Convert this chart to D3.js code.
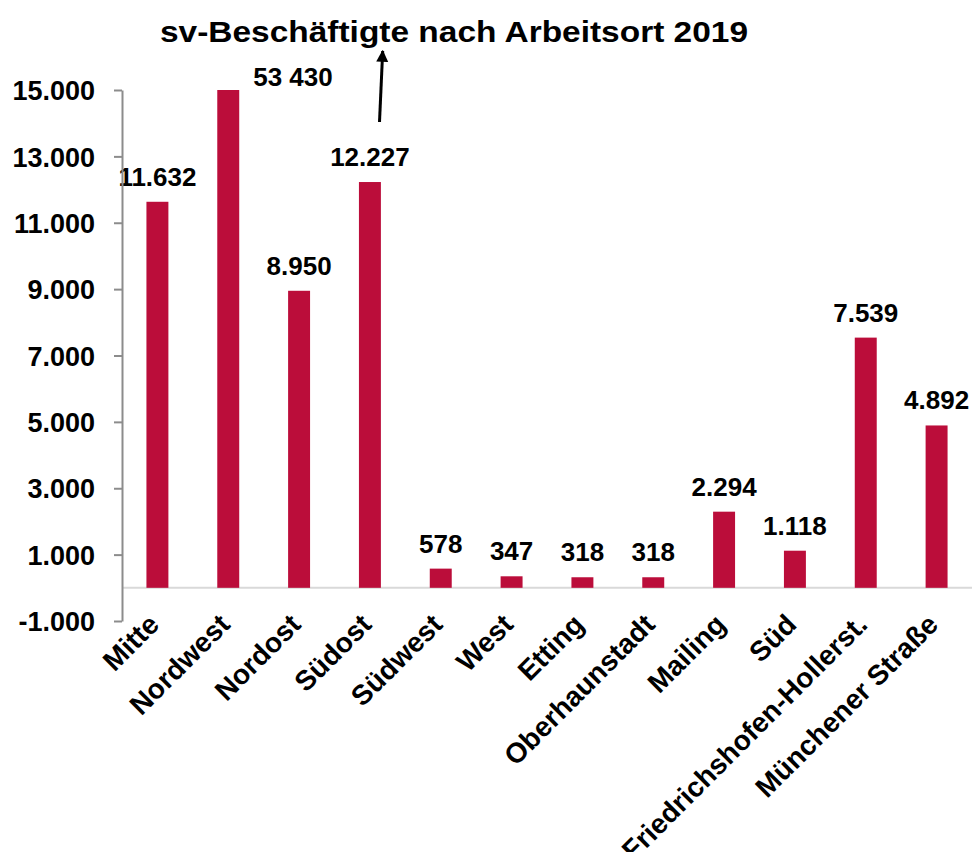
<!DOCTYPE html>
<html>
<head>
<meta charset="utf-8">
<script src="https://cdn.jsdelivr.net/npm/d3@7"></script>
<style>
  body { margin: 0; background: #fff; }
  text { font-family: "Liberation Sans", Arial, sans-serif; font-weight: bold; fill: #000; }
</style>
</head>
<body>
<svg id="chart"></svg>
<script>
const categories = ["Mitte", "Nordwest", "Nordost", "Südost", "Südwest", "West", "Etting",
    "Oberhaunstadt", "Mailing", "Süd", "Friedrichshofen-Hollerst.", "Münchener Straße"];
const values = [11632, 53430, 8950, 12227, 578, 347, 318, 318, 2294, 1118, 7539, 4892];
const yTicks = [-1000, 1000, 3000, 5000, 7000, 9000, 11000, 13000, 15000];
const title = "sv-Beschäftigte nach Arbeitsort 2019";
const clippedLabel = "53 430";

const width = 979, height = 852;
const margin = { top: 90, right: 7, bottom: 231, left: 122 };
const innerW = width - margin.left - margin.right;
const innerH = height - margin.top - margin.bottom;

const de = d3.formatLocale({ decimal: ",", thousands: ".", grouping: [3], currency: ["", " €"], minus: "-" });
const fmt = de.format(",.0f");

const svg = d3.select("#chart").attr("width", width).attr("height", height);
const chart = svg.append("g").attr("transform", `translate(${margin.left},${margin.top})`);

const x = d3.scaleBand().domain(categories).range([0, innerW]).paddingInner(0.69).paddingOuter(0.345);
const y = d3.scaleLinear().domain([-1000, 15000]).range([innerH, 0]).clamp(true);

// zero line
chart.append("line")
    .attr("x1", 0).attr("x2", innerW)
    .attr("y1", y(0)).attr("y2", y(0))
    .attr("stroke", "#d9d9d9").attr("stroke-width", 2);

// bars
chart.selectAll("rect.bar")
    .data(values)
    .join("rect")
    .attr("class", "bar")
    .attr("x", (d, i) => x(categories[i]))
    .attr("width", x.bandwidth())
    .attr("y", d => y(d))
    .attr("height", d => y(0) - y(d))
    .attr("fill", "#bb0d3a");

// value labels
chart.selectAll("text.val")
    .data(values)
    .join("text")
    .attr("class", "val")
    .attr("x", (d, i) => x(categories[i]) + x.bandwidth() / 2)
    .attr("y", d => y(d) - 16)
    .attr("text-anchor", "middle")
    .style("font-size", "26px")
    .text(d => d > 15000 ? "" : fmt(d));

// clipped bar label
chart.append("text")
    .attr("x", x("Nordwest") + x.bandwidth() + 14)
    .attr("y", y(15000) - 4)
    .style("font-size", "26px")
    .text(clippedLabel);

// y axis
const yAxis = d3.axisLeft(y).tickValues(yTicks).tickFormat(fmt).tickSize(8).tickSizeOuter(0);
const yg = chart.append("g").call(yAxis);
yg.select(".domain").attr("stroke", "#8c8c8c").attr("stroke-width", 2);
yg.selectAll(".tick line").attr("stroke", "#8c8c8c").attr("stroke-width", 2);
yg.selectAll(".tick text")
    .attr("x", -27)
    .attr("dy", "0.36em")
    .style("font-size", "27px")
    .style("font-family", "'Liberation Sans', Arial, sans-serif")
    .style("font-weight", "bold")
    .attr("fill", "#000");

// x labels
const xAxis = d3.axisBottom(x).tickSize(0);
const xg = chart.append("g").attr("transform", `translate(0,${innerH})`).call(xAxis);
xg.select(".domain").remove();
xg.selectAll(".tick text")
    .attr("text-anchor", "end")
    .attr("transform", "translate(-11,-9) rotate(-45)")
    .attr("x", 0).attr("y", 0).attr("dy", "0.72em")
    .style("font-size", "28px")
    .style("font-family", "'Liberation Sans', Arial, sans-serif")
    .style("font-weight", "bold")
    .attr("fill", "#000");

// title
svg.append("text")
    .attr("x", 160).attr("y", 42)
    .attr("textLength", 588)
    .attr("lengthAdjust", "spacingAndGlyphs")
    .style("font-size", "30px")
    .text(title);

// arrow
svg.append("defs").append("marker")
    .attr("id", "arrowhead")
    .attr("viewBox", "0 0 10 10")
    .attr("refX", 9).attr("refY", 5)
    .attr("markerWidth", 4).attr("markerHeight", 5)
    .attr("orient", "auto")
    .append("path").attr("d", "M0,0 L10,5 L0,10 Z").attr("fill", "#000");
svg.append("line")
    .attr("x1", 379.5).attr("y1", 122)
    .attr("x2", 382.7).attr("y2", 51)
    .attr("stroke", "#000").attr("stroke-width", 3)
    .attr("marker-end", "url(#arrowhead)");
</script>
</body>
</html>
